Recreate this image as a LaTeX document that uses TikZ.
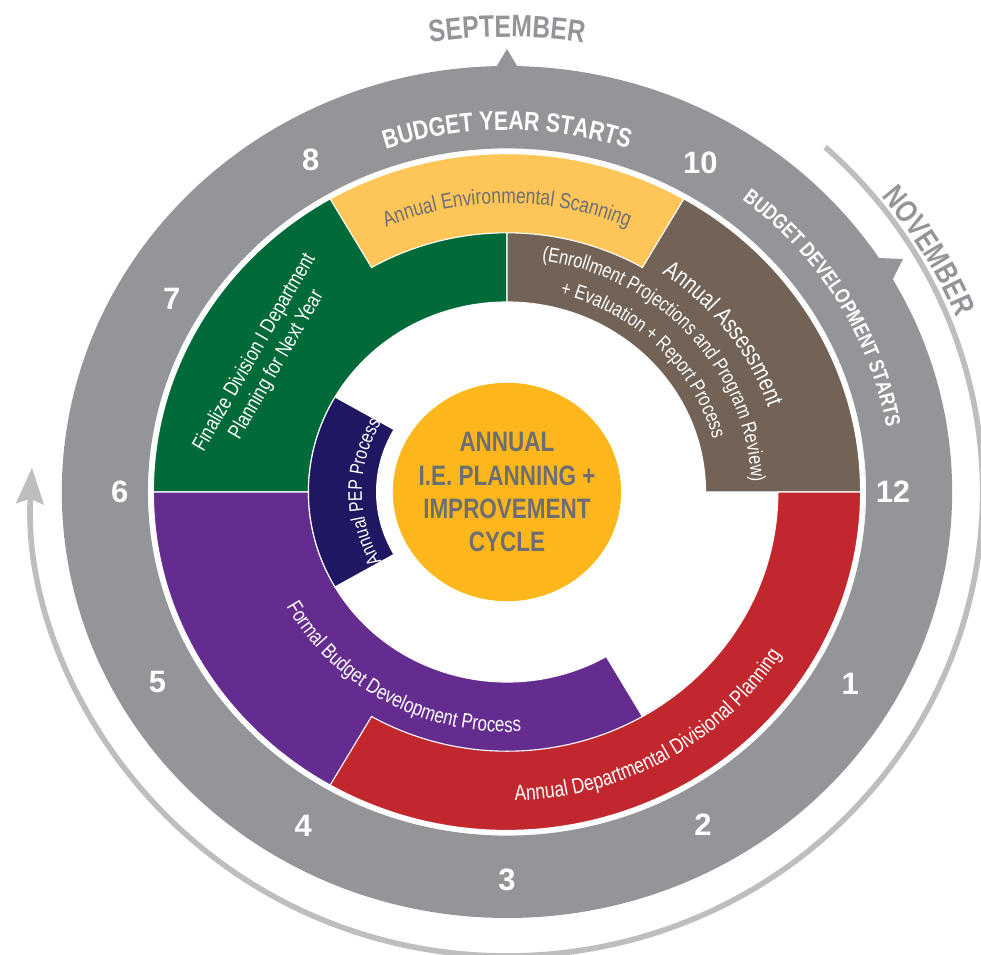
\documentclass[tikz,border=0pt]{standalone}
\usepackage{fontspec}
\setmainfont{Liberation Sans}[FakeStretch=0.8]
\newfontfamily\digitfont{Liberation Sans}
\usepackage{xcolor}
\usepackage{tikz}
\usetikzlibrary{arrows.meta,decorations.text}

\definecolor{ringgray}{HTML}{939598}
\definecolor{arcgray}{HTML}{BCBEC0}
\definecolor{hubtext}{HTML}{6D6E71}
\definecolor{hubfill}{HTML}{FDB71C}
\definecolor{segyellow}{HTML}{FEC659}
\definecolor{seggreen}{HTML}{006A39}
\definecolor{segbrown}{HTML}{736356}
\definecolor{segred}{HTML}{C1272D}
\definecolor{segpurple}{HTML}{652C8F}
\definecolor{segnavy}{HTML}{1F1761}

\begin{document}
\begin{tikzpicture}[
  x=1.045cm, y=1cm,
  segment/.style={draw=white, line width=0.8pt},
  monthnum/.style={text=white, font=\digitfont\bfseries\fontsize{22}{26}\selectfont},
  hub/.style={align=center, text=hubtext, font=\bfseries\fontsize{20}{23.5}\selectfont},
  bandlabel/.style={align=center, text=white, font=\fontsize{15}{18}\selectfont},
  arctext/.style={decorate, decoration={text along path, text align=center, text color=white}}
]
  \useasboundingbox (-12.129,-11.575) rectangle (11.340,12.3);

  % Outer month ring
  \fill[ringgray, even odd rule] (0,0) circle[radius=10.65] (0,0) circle[radius=8.59];
  \fill[ringgray] (0,11.075) -- (-0.3,10.55) -- (0.3,10.55) -- cycle;
  \fill[ringgray] (8.70,5.73) -- (8.876,5.85) -- (9.474,5.825) -- (9.234,5.325) -- (9.05,5.22) -- cycle;
  \draw[arcgray, line width=4pt, -{Stealth[width=0.68cm, length=0.9cm, inset=0.12cm]}] (48:11.38 and 11.6) arc[start angle=48, end angle=-183, x radius=11.38, y radius=11.6];

  % Process segments
  \fill[seggreen, segment] (90:8.46) arc[start angle=90, end angle=180, radius=8.46] -- (180:4.75) arc[start angle=180, end angle=90, radius=4.75] -- cycle;
  \fill[segbrown, segment] (0:8.46) arc[start angle=0, end angle=90, radius=8.46] -- (90:4.75) arc[start angle=90, end angle=0, radius=4.75] -- cycle;
  \fill[segpurple, segment] (180:8.46) arc[start angle=180, end angle=300, radius=8.46] -- (300:4.75) arc[start angle=300, end angle=180, radius=4.75] -- cycle;
  \fill[segyellow, segment] (60:8.46) arc[start angle=60, end angle=120, radius=8.46] -- (120:6.48) arc[start angle=120, end angle=60, radius=6.48] -- cycle;
  \fill[segred, segment] (240:8.46) arc[start angle=240, end angle=360, radius=8.46] -- (0:6.48) arc[start angle=360, end angle=240, radius=6.48] -- cycle;
  \fill[segnavy, segment] (150:4.75) arc[start angle=150, end angle=210, radius=4.75] -- (210:3.12) arc[start angle=210, end angle=150, radius=3.12] -- cycle;

  % Hub
  \fill[hubfill] (0,0) circle[radius=2.73];
  \node[hub] (hub) at (0,0) {ANNUAL\\I.E. PLANNING +\\IMPROVEMENT\\CYCLE};

  % Month numbers
  \node[monthnum] (m12) at (0:9.65cm) {12};
  \node[monthnum] (m10) at (59.6:9.55cm) {10};
  \node[monthnum] (m8) at (120.6:9.64cm) {8};
  \node[monthnum] (m7) at (150:9.68cm) {7};
  \node[monthnum] (m6) at (180:9.68cm) {6};
  \node[monthnum] (m5) at (208.6:9.95cm) {5};
  \node[monthnum] (m4) at (238.6:9.78cm) {4};
  \node[monthnum] (m3) at (270:9.7cm) {3};
  \node[monthnum] (m2) at (300.5:9.66cm) {2};
  \node[monthnum] (m1) at (330.8:9.83cm) {1};

  % Ring labels
  \path[arctext, decoration={text={|\bfseries\fontsize{19}{22}\selectfont|BUDGET YEAR STARTS}}] (130:9.05) arc[start angle=130, end angle=50, radius=9.05];
  \path[arctext, decoration={text={|\bfseries\fontsize{15}{17}\selectfont|BUDGET DEVELOPMENT STARTS}}] (66:9.22) arc[start angle=66, end angle=-4, radius=9.22];
  \path[arctext, decoration={text color=ringgray, text={|\bfseries\fontsize{22}{26}\selectfont|SEPTEMBER}}] (110:11.375) arc[start angle=110, end angle=70, radius=11.375];
  \path[arctext, decoration={text color=ringgray, text={|\bfseries\fontsize{22}{26}\selectfont|NOVEMBER}}] (50.7:11.6) arc[start angle=50.7, end angle=10.7, radius=11.6];

  % Segment labels
  \path[arctext, decoration={text color=hubtext, text={|\fontsize{15.5}{18}\selectfont|Annual Environmental Scanning}}] (130:7.22) arc[start angle=130, end angle=50, radius=7.22];
  \path[arctext, decoration={text={|\fontsize{17.5}{20}\selectfont|Annual Assessment}}] (72:6.6) arc[start angle=72, end angle=2, radius=6.6];
  \path[arctext, decoration={text={|\fontsize{14.5}{17}\selectfont|(Enrollment Projections and Program Review)}}] (87:5.85) arc[start angle=87, end angle=-3, radius=5.85];
  \path[arctext, decoration={text={|\fontsize{14.5}{17}\selectfont|+ Evaluation + Report Process}}] (90:5.1) arc[start angle=90, end angle=0, radius=5.1];
  \path[arctext, decoration={text={|\fontsize{15}{18}\selectfont|Formal Budget Development Process}}] (190.5:6.0) arc[start angle=190.5, end angle=290.5, radius=6.0];
  \path[arctext, decoration={text={|\fontsize{15.5}{18}\selectfont|Annual Departmental Divisional Planning}}] (260:7.72) arc[start angle=260, end angle=340, radius=7.72];
  \path[arctext, decoration={text={|\fontsize{14}{17}\selectfont|Annual PEP Process}}] (225:3.47) arc[start angle=225, end angle=135, radius=3.47];
  \node[bandlabel, rotate=60] (finalize) at (-5.77,3.33) {Finalize Division I Department\\Planning for Next Year};
\end{tikzpicture}
\end{document}
